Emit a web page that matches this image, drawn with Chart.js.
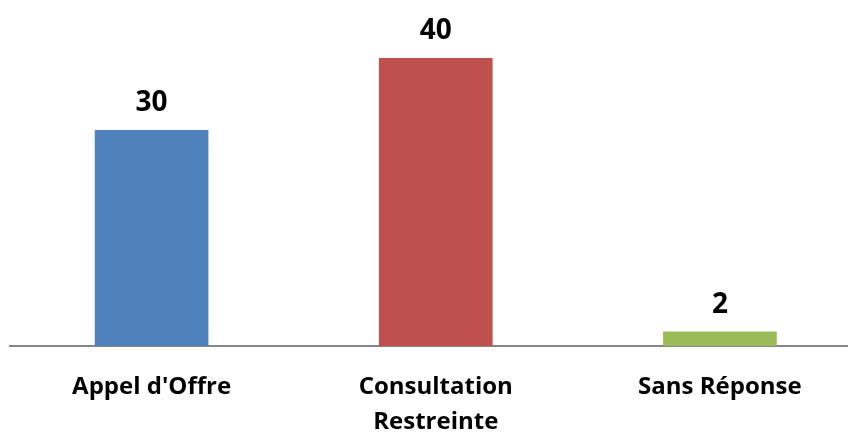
<!DOCTYPE html>
<html>
<head>
<meta charset="utf-8">
<script src="https://cdn.jsdelivr.net/npm/chart.js@4"></script>
<style>
  html, body { margin: 0; padding: 0; background: #fff; overflow: hidden; }
  #wrap { width: 848px; height: 432px; overflow: hidden; }
  #box { width: 862px; height: 432px; }
</style>
</head>
<body>
<div id="wrap"><div id="box"><canvas id="myChart"></canvas></div></div>
<script>
const categories = [['Appel d\'Offre'], ['Consultation', 'Restreinte'], ['Sans Réponse']];
const values = [30, 40, 2];
const barColors = ['#4F81BD', '#C0504D', '#9BBB59'];

const fontFamily = '"Open Sans", sans-serif';

// draws the number above each bar
const valueLabels = {
    id: 'valueLabels',
    afterDatasetsDraw(chart) {
        const c = chart.ctx;
        const meta = chart.getDatasetMeta(0);
        c.save();
        c.font = `bold 28px ${fontFamily}`;
        c.fillStyle = '#000';
        c.textAlign = 'center';
        c.textBaseline = 'alphabetic';
        meta.data.forEach((bar, i) => {
            c.fillText(String(values[i]), bar.x, bar.y - 19);
        });
        c.restore();
    }
};

const ctx = document.getElementById('myChart').getContext('2d');
const chart = new Chart(ctx, {
    type: 'bar',
    data: {
        labels: categories,
        datasets: [{
            data: values,
            backgroundColor: barColors,
            borderWidth: 0,
            categoryPercentage: 1,
            barPercentage: 0.4
        }]
    },
    options: {
        responsive: true,
        maintainAspectRatio: false,
        animation: false,
        layout: { padding: { top: 58, left: 9.5, right: 0, bottom: 0 } },
        plugins: {
            legend: { display: false },
            tooltip: { enabled: false }
        },
        scales: {
            x: {
                grid: { display: false, drawTicks: false },
                border: { display: true, color: '#868686', width: 2 },
                ticks: {
                    color: '#000',
                    padding: 24,
                    font: { family: fontFamily, size: 24, weight: 'bold', lineHeight: 1.45 },
                    maxRotation: 0
                },
                afterFit: scale => { scale.height = 86; }
            },
            y: {
                display: false,
                min: 0,
                max: 40
            }
        }
    },
    plugins: [valueLabels]
});
</script>
</body>
</html>
